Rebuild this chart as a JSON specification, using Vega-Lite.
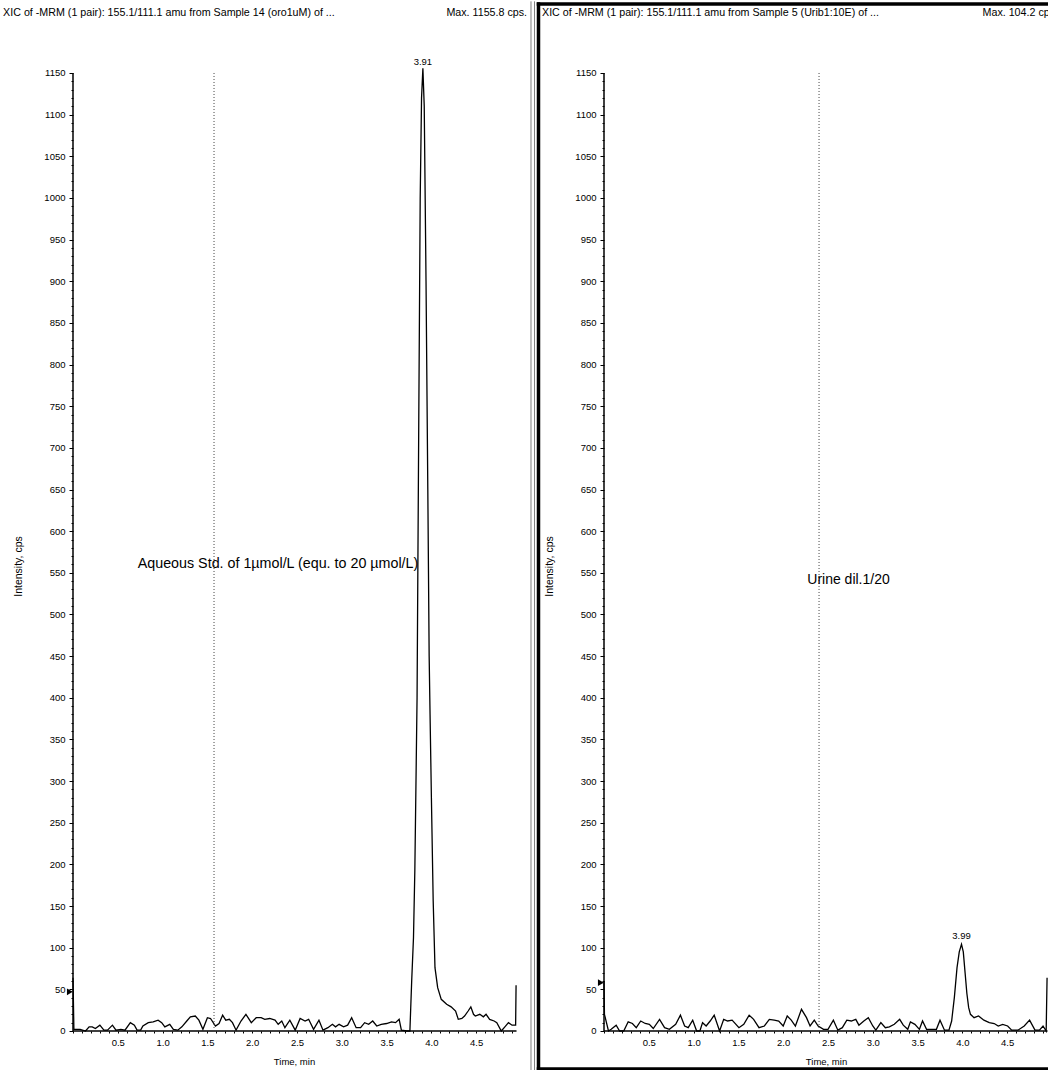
{
  "$schema": "https://vega.github.io/schema/vega-lite/v6.json",
  "padding": 0,
  "spacing": 0,
  "autosize": {"type": "pad"},
  "background": "white",
  "config": {
    "view": {"stroke": null},
    "font": "Liberation Sans",
    "axis": {"labelFont": "Liberation Sans", "titleFont": "Liberation Sans", "labelColor": "black", "titleColor": "black", "tickColor": "black", "grid": false, "domain": false}
  },
  "datasets": {
    "std": [
      {"time":0.0,"intensity":64},{"time":0.01,"intensity":2},{"time":0.08,"intensity":2},{"time":0.14,"intensity":0},{"time":0.18,"intensity":5},{"time":0.215,"intensity":5},{"time":0.25,"intensity":3},{"time":0.3,"intensity":7},{"time":0.345,"intensity":1},{"time":0.385,"intensity":1},{"time":0.44,"intensity":7},{"time":0.48,"intensity":1},{"time":0.535,"intensity":2},{"time":0.58,"intensity":1},{"time":0.64,"intensity":10},{"time":0.685,"intensity":7},{"time":0.715,"intensity":1},{"time":0.755,"intensity":1},{"time":0.78,"intensity":6},{"time":0.84,"intensity":10},{"time":0.895,"intensity":11},{"time":0.95,"intensity":13},{"time":0.99,"intensity":10},{"time":1.025,"intensity":5},{"time":1.08,"intensity":8},{"time":1.12,"intensity":2},{"time":1.17,"intensity":1},{"time":1.215,"intensity":5},{"time":1.27,"intensity":12},{"time":1.31,"intensity":17},{"time":1.365,"intensity":18},{"time":1.405,"intensity":13},{"time":1.45,"intensity":2},{"time":1.5,"intensity":16},{"time":1.535,"intensity":15},{"time":1.59,"intensity":6},{"time":1.63,"intensity":9},{"time":1.67,"intensity":19},{"time":1.705,"intensity":13},{"time":1.745,"intensity":14},{"time":1.78,"intensity":10},{"time":1.82,"intensity":1},{"time":1.875,"intensity":12},{"time":1.93,"intensity":20},{"time":1.99,"intensity":10},{"time":2.045,"intensity":16},{"time":2.1,"intensity":16},{"time":2.14,"intensity":14},{"time":2.195,"intensity":15},{"time":2.255,"intensity":13},{"time":2.29,"intensity":8},{"time":2.33,"intensity":12},{"time":2.365,"intensity":4},{"time":2.42,"intensity":13},{"time":2.48,"intensity":1},{"time":2.535,"intensity":15},{"time":2.59,"intensity":12},{"time":2.63,"intensity":14},{"time":2.685,"intensity":2},{"time":2.745,"intensity":13},{"time":2.79,"intensity":1},{"time":2.845,"intensity":4},{"time":2.895,"intensity":8},{"time":2.93,"intensity":5},{"time":2.97,"intensity":8},{"time":3.02,"intensity":5},{"time":3.065,"intensity":7},{"time":3.11,"intensity":16},{"time":3.16,"intensity":4},{"time":3.21,"intensity":4},{"time":3.255,"intensity":10},{"time":3.3,"intensity":8},{"time":3.345,"intensity":12},{"time":3.39,"intensity":6},{"time":3.44,"intensity":8},{"time":3.5,"intensity":9},{"time":3.555,"intensity":11},{"time":3.6,"intensity":10},{"time":3.64,"intensity":14},{"time":3.665,"intensity":1},{"time":3.725,"intensity":0},{"time":3.76,"intensity":0},{"time":3.78,"intensity":60},{"time":3.8,"intensity":112},{"time":3.815,"intensity":192},{"time":3.83,"intensity":316},{"time":3.84,"intensity":400},{"time":3.86,"intensity":750},{"time":3.875,"intensity":1000},{"time":3.89,"intensity":1120},{"time":3.905,"intensity":1155.8},{"time":3.92,"intensity":1110},{"time":3.94,"intensity":900},{"time":3.96,"intensity":650},{"time":3.975,"intensity":450},{"time":3.985,"intensity":380},{"time":4.0,"intensity":280},{"time":4.02,"intensity":156},{"time":4.04,"intensity":76},{"time":4.07,"intensity":52},{"time":4.11,"intensity":38},{"time":4.17,"intensity":32},{"time":4.22,"intensity":29},{"time":4.27,"intensity":24},{"time":4.3,"intensity":14},{"time":4.34,"intensity":15},{"time":4.37,"intensity":18},{"time":4.41,"intensity":24},{"time":4.44,"intensity":29},{"time":4.47,"intensity":20},{"time":4.49,"intensity":18},{"time":4.54,"intensity":20},{"time":4.58,"intensity":17},{"time":4.61,"intensity":20},{"time":4.65,"intensity":14},{"time":4.7,"intensity":12},{"time":4.73,"intensity":10},{"time":4.78,"intensity":0},{"time":4.82,"intensity":5},{"time":4.86,"intensity":10},{"time":4.9,"intensity":7},{"time":4.94,"intensity":7},{"time":4.945,"intensity":55}
    ],
    "urine": [
      {"time":0.0,"intensity":60},{"time":0.005,"intensity":20},{"time":0.05,"intensity":0},{"time":0.08,"intensity":2},{"time":0.136,"intensity":7},{"time":0.174,"intensity":0},{"time":0.22,"intensity":0},{"time":0.27,"intensity":11},{"time":0.317,"intensity":9},{"time":0.36,"intensity":4},{"time":0.41,"intensity":12},{"time":0.46,"intensity":9},{"time":0.506,"intensity":8},{"time":0.55,"intensity":3},{"time":0.62,"intensity":14},{"time":0.676,"intensity":4},{"time":0.73,"intensity":2},{"time":0.8,"intensity":8},{"time":0.853,"intensity":19},{"time":0.9,"intensity":6},{"time":0.94,"intensity":4},{"time":0.99,"intensity":13},{"time":1.034,"intensity":0},{"time":1.07,"intensity":0},{"time":1.1,"intensity":10},{"time":1.14,"intensity":6},{"time":1.185,"intensity":12},{"time":1.23,"intensity":19},{"time":1.29,"intensity":0},{"time":1.336,"intensity":14},{"time":1.38,"intensity":12},{"time":1.43,"intensity":13},{"time":1.506,"intensity":4},{"time":1.56,"intensity":8},{"time":1.62,"intensity":19},{"time":1.67,"intensity":14},{"time":1.73,"intensity":4},{"time":1.79,"intensity":6},{"time":1.845,"intensity":14},{"time":1.9,"intensity":13},{"time":1.95,"intensity":12},{"time":2.0,"intensity":6},{"time":2.045,"intensity":18},{"time":2.09,"intensity":13},{"time":2.136,"intensity":6},{"time":2.204,"intensity":26},{"time":2.26,"intensity":16},{"time":2.3,"intensity":6},{"time":2.347,"intensity":13},{"time":2.39,"intensity":6},{"time":2.45,"intensity":2},{"time":2.5,"intensity":2},{"time":2.56,"intensity":13},{"time":2.61,"intensity":1},{"time":2.66,"intensity":4},{"time":2.71,"intensity":13},{"time":2.76,"intensity":12},{"time":2.81,"intensity":14},{"time":2.845,"intensity":7},{"time":2.9,"intensity":12},{"time":2.95,"intensity":16},{"time":3.0,"intensity":6},{"time":3.034,"intensity":1},{"time":3.09,"intensity":10},{"time":3.14,"intensity":4},{"time":3.185,"intensity":5},{"time":3.24,"intensity":8},{"time":3.3,"intensity":14},{"time":3.34,"intensity":7},{"time":3.39,"intensity":2},{"time":3.42,"intensity":11},{"time":3.47,"intensity":8},{"time":3.52,"intensity":2},{"time":3.555,"intensity":12},{"time":3.6,"intensity":2},{"time":3.66,"intensity":2},{"time":3.71,"intensity":2},{"time":3.75,"intensity":13},{"time":3.8,"intensity":1},{"time":3.85,"intensity":1},{"time":3.88,"intensity":12},{"time":3.91,"intensity":40},{"time":3.94,"intensity":76},{"time":3.965,"intensity":95},{"time":3.99,"intensity":104.2},{"time":4.01,"intensity":95},{"time":4.03,"intensity":70},{"time":4.05,"intensity":45},{"time":4.07,"intensity":28},{"time":4.09,"intensity":20},{"time":4.13,"intensity":16},{"time":4.18,"intensity":18},{"time":4.24,"intensity":13},{"time":4.3,"intensity":10},{"time":4.355,"intensity":9},{"time":4.4,"intensity":6},{"time":4.45,"intensity":8},{"time":4.505,"intensity":6},{"time":4.55,"intensity":1},{"time":4.62,"intensity":1},{"time":4.69,"intensity":6},{"time":4.75,"intensity":13},{"time":4.81,"intensity":1},{"time":4.86,"intensity":1},{"time":4.9,"intensity":6},{"time":4.935,"intensity":0},{"time":4.945,"intensity":64}
    ]
  },
  "hconcat": [
    {
      "width": 533,
      "height": 1070,
      "data": {"name": "std"},
      "resolve": {"axis": {"x": "independent", "y": "independent"}},
      "layer": [
        {
          "mark": {"type": "line", "color": "black", "strokeWidth": 1.3, "clip": true},
          "encoding": {
            "x": {
              "field": "time", "type": "quantitative",
              "scale": {"domain": [-0.81473, 5.13393], "nice": false, "zero": false},
              "axis": {
                "offset": -40,
                "values": [0,0.1,0.2,0.3,0.4,0.5,0.6,0.7,0.8,0.9,1,1.1,1.2,1.3,1.4,1.5,1.6,1.7,1.8,1.9,2,2.1,2.2,2.3,2.4,2.5,2.6,2.7,2.8,2.9,3,3.1,3.2,3.3,3.4,3.5,3.6,3.7,3.8,3.9,4,4.1,4.2,4.3,4.4,4.5,4.6,4.7,4.8,4.9],
                "labelExpr": "abs(datum.value*2 - round(datum.value*2)) < 0.001 && datum.value > 0.2 && datum.value < 4.8 ? format(datum.value, '.1f') : ''",
                "labelOverlap": false,
                "tickSize": 2,
                "labelFontSize": 9.5,
                "labelPadding": 4,
                "title": "Time, min",
                "titleFontSize": 9.5,
                "titleFontWeight": "normal",
                "titleX": 294,
                "titleY": 25
              }
            },
            "y": {
              "field": "intensity", "type": "quantitative",
              "scale": {"domain": [-48.017, 1236.43], "nice": false, "zero": false},
              "axis": {
                "offset": -73,
                "values": [0,50,100,150,200,250,300,350,400,450,500,550,600,650,700,750,800,850,900,950,1000,1050,1100,1150],
                "format": "d",
                "labelOverlap": false,
                "tickSize": 4,
                "labelFontSize": 9.5,
                "labelPadding": 4,
                "title": "Intensity, cps",
                "titleFontSize": 10.5,
                "titleFontWeight": "normal",
                "titleAngle": -90,
                "titleAlign": "center",
                "titleBaseline": "middle",
                "titleX": -55,
                "titleY": 565
              }
            }
          }
        },
        {
          "data": {"values": [{}]},
          "mark": {"type": "rule", "color": "black", "strokeWidth": 1.5},
          "encoding": {
            "x": {"datum": 0, "axis": null},
            "y": {"datum": 0, "axis": {"orient": "left", "offset": -73, "values": [10,20,30,40,60,70,80,90,110,120,130,140,160,170,180,190,210,220,230,240,260,270,280,290,310,320,330,340,360,370,380,390,410,420,430,440,460,470,480,490,510,520,530,540,560,570,580,590,610,620,630,640,660,670,680,690,710,720,730,740,760,770,780,790,810,820,830,840,860,870,880,890,910,920,930,940,960,970,980,990,1010,1020,1030,1040,1060,1070,1080,1090,1110,1120,1130,1140], "labels": false, "tickSize": 2, "title": null}},
            "y2": {"datum": 1150}
          }
        },
        {
          "data": {"values": [{}]},
          "mark": {"type": "rule", "color": "black", "strokeWidth": 1.5},
          "encoding": {"x": {"datum": 0, "axis": null}, "x2": {"datum": 4.95}, "y": {"datum": 0, "axis": null}}
        },
        {
          "data": {"values": [{}]},
          "mark": {"type": "rule", "color": "#444444", "strokeWidth": 1, "strokeDash": [1, 2]},
          "encoding": {"x": {"datum": 1.574, "axis": null}, "y": {"datum": 0, "axis": null}, "y2": {"datum": 1150}}
        },
        {
          "data": {"values": [{}]},
          "mark": {"type": "rule", "color": "#808080", "strokeWidth": 1},
          "encoding": {"x": {"datum": 5.1116, "axis": null}, "y": {"datum": -48, "axis": null}, "y2": {"datum": 1236}}
        },
        {
          "data": {"values": [{}]},
          "mark": {"type": "point", "shape": "triangle-right", "filled": true, "color": "black", "opacity": 1, "size": 45},
          "encoding": {"x": {"datum": -0.035, "axis": null}, "y": {"datum": 47, "axis": null}}
        },
        {
          "data": {"values": [{}]},
          "mark": {"type": "text", "align": "left", "baseline": "middle", "fontSize": 10.7, "color": "black"},
          "encoding": {"x": {"datum": -0.78, "axis": null}, "y": {"datum": 1222, "axis": null}, "text": {"value": "XIC of -MRM (1 pair): 155.1/111.1 amu from Sample 14 (oro1uM) of ..."}}
        },
        {
          "data": {"values": [{}]},
          "mark": {"type": "text", "align": "right", "baseline": "middle", "fontSize": 10.7, "color": "black"},
          "encoding": {"x": {"datum": 5.067, "axis": null}, "y": {"datum": 1222, "axis": null}, "text": {"value": "Max. 1155.8 cps."}}
        },
        {
          "data": {"values": [{}]},
          "mark": {"type": "text", "align": "center", "baseline": "middle", "fontSize": 9.5, "color": "black"},
          "encoding": {"x": {"datum": 3.905, "axis": null}, "y": {"datum": 1163, "axis": null}, "text": {"value": "3.91"}}
        },
        {
          "data": {"values": [{}]},
          "mark": {"type": "text", "align": "center", "baseline": "middle", "fontSize": 14.3, "color": "black"},
          "encoding": {"x": {"datum": 2.288, "axis": null}, "y": {"datum": 560, "axis": null}, "text": {"value": "Aqueous Std. of 1µmol/L (equ. to 20 µmol/L)"}}
        }
      ]
    },
    {
      "width": 515,
      "height": 1070,
      "data": {"name": "urine"},
      "resolve": {"axis": {"x": "independent", "y": "independent"}},
      "layer": [
        {
          "mark": {"type": "line", "color": "black", "strokeWidth": 1.3, "clip": true},
          "encoding": {
            "x": {
              "field": "time", "type": "quantitative",
              "scale": {"domain": [-0.78125, 4.96652], "nice": false, "zero": false},
              "axis": {
                "offset": -40,
                "values": [0,0.1,0.2,0.3,0.4,0.5,0.6,0.7,0.8,0.9,1,1.1,1.2,1.3,1.4,1.5,1.6,1.7,1.8,1.9,2,2.1,2.2,2.3,2.4,2.5,2.6,2.7,2.8,2.9,3,3.1,3.2,3.3,3.4,3.5,3.6,3.7,3.8,3.9,4,4.1,4.2,4.3,4.4,4.5,4.6,4.7,4.8,4.9],
                "labelExpr": "abs(datum.value*2 - round(datum.value*2)) < 0.001 && datum.value > 0.2 && datum.value < 4.8 ? format(datum.value, '.1f') : ''",
                "labelOverlap": false,
                "tickSize": 2,
                "labelFontSize": 9.5,
                "labelPadding": 4,
                "title": "Time, min",
                "titleFontSize": 9.5,
                "titleFontWeight": "normal",
                "titleX": 292,
                "titleY": 25
              }
            },
            "y": {
              "field": "intensity", "type": "quantitative",
              "scale": {"domain": [-48.017, 1236.43], "nice": false, "zero": false},
              "axis": {
                "offset": -70,
                "values": [0,50,100,150,200,250,300,350,400,450,500,550,600,650,700,750,800,850,900,950,1000,1050,1100,1150],
                "format": "d",
                "labelOverlap": false,
                "tickSize": 4,
                "labelFontSize": 9.5,
                "labelPadding": 4,
                "title": "Intensity, cps",
                "titleFontSize": 10.5,
                "titleFontWeight": "normal",
                "titleAngle": -90,
                "titleAlign": "center",
                "titleBaseline": "middle",
                "titleX": -55,
                "titleY": 565
              }
            }
          }
        },
        {
          "data": {"values": [{}]},
          "mark": {"type": "rule", "color": "black", "strokeWidth": 1.5},
          "encoding": {
            "x": {"datum": 0, "axis": null},
            "y": {"datum": 0, "axis": {"orient": "left", "offset": -70, "values": [10,20,30,40,60,70,80,90,110,120,130,140,160,170,180,190,210,220,230,240,260,270,280,290,310,320,330,340,360,370,380,390,410,420,430,440,460,470,480,490,510,520,530,540,560,570,580,590,610,620,630,640,660,670,680,690,710,720,730,740,760,770,780,790,810,820,830,840,860,870,880,890,910,920,930,940,960,970,980,990,1010,1020,1030,1040,1060,1070,1080,1090,1110,1120,1130,1140], "labels": false, "tickSize": 2, "title": null}},
            "y2": {"datum": 1150}
          }
        },
        {
          "data": {"values": [{}]},
          "mark": {"type": "rule", "color": "black", "strokeWidth": 1.5},
          "encoding": {"x": {"datum": 0, "axis": null}, "x2": {"datum": 4.95}, "y": {"datum": 0, "axis": null}}
        },
        {
          "data": {"values": [{}]},
          "mark": {"type": "rule", "color": "#444444", "strokeWidth": 1, "strokeDash": [1, 2]},
          "encoding": {"x": {"datum": 2.4, "axis": null}, "y": {"datum": 0, "axis": null}, "y2": {"datum": 1150}}
        },
        {
          "data": {"values": [{}]},
          "mark": {"type": "rule", "color": "#808080", "strokeWidth": 1},
          "encoding": {"x": {"datum": -0.7757, "axis": null}, "y": {"datum": -48, "axis": null}, "y2": {"datum": 1236}}
        },
        {
          "data": {"values": [{}]},
          "mark": {"type": "rule", "color": "black", "strokeWidth": 3.5, "strokeCap": "square"},
          "encoding": {"x": {"datum": -0.731, "axis": null}, "y": {"datum": -45.6, "axis": null}, "y2": {"datum": 1232.8}}
        },
        {
          "data": {"values": [{}]},
          "mark": {"type": "rule", "color": "black", "strokeWidth": 3.5, "strokeCap": "square", "clip": true},
          "encoding": {"x": {"datum": -0.731, "axis": null}, "x2": {"datum": 5.2}, "y": {"datum": 1232.8, "axis": null}}
        },
        {
          "data": {"values": [{}]},
          "mark": {"type": "rule", "color": "black", "strokeWidth": 3.5, "strokeCap": "square", "clip": true},
          "encoding": {"x": {"datum": -0.731, "axis": null}, "x2": {"datum": 5.2}, "y": {"datum": -45.6, "axis": null}}
        },
        {
          "data": {"values": [{}]},
          "mark": {"type": "point", "shape": "triangle-right", "filled": true, "color": "black", "opacity": 1, "size": 45},
          "encoding": {"x": {"datum": -0.035, "axis": null}, "y": {"datum": 58, "axis": null}}
        },
        {
          "data": {"values": [{}]},
          "mark": {"type": "text", "align": "left", "baseline": "middle", "fontSize": 10.7, "color": "black"},
          "encoding": {"x": {"datum": -0.692, "axis": null}, "y": {"datum": 1222, "axis": null}, "text": {"value": "XIC of -MRM (1 pair): 155.1/111.1 amu from Sample 5 (Urib1:10E) of ..."}}
        },
        {
          "data": {"values": [{}]},
          "mark": {"type": "text", "align": "right", "baseline": "middle", "fontSize": 10.7, "color": "black", "clip": true},
          "encoding": {"x": {"datum": 5.067, "axis": null}, "y": {"datum": 1222, "axis": null}, "text": {"value": "Max. 104.2 cps."}}
        },
        {
          "data": {"values": [{}]},
          "mark": {"type": "text", "align": "center", "baseline": "middle", "fontSize": 9.5, "color": "black"},
          "encoding": {"x": {"datum": 3.99, "axis": null}, "y": {"datum": 114, "axis": null}, "text": {"value": "3.99"}}
        },
        {
          "data": {"values": [{}]},
          "mark": {"type": "text", "align": "center", "baseline": "middle", "fontSize": 14, "color": "black"},
          "encoding": {"x": {"datum": 2.729, "axis": null}, "y": {"datum": 541, "axis": null}, "text": {"value": "Urine dil.1/20"}}
        }
      ]
    }
  ]
}
